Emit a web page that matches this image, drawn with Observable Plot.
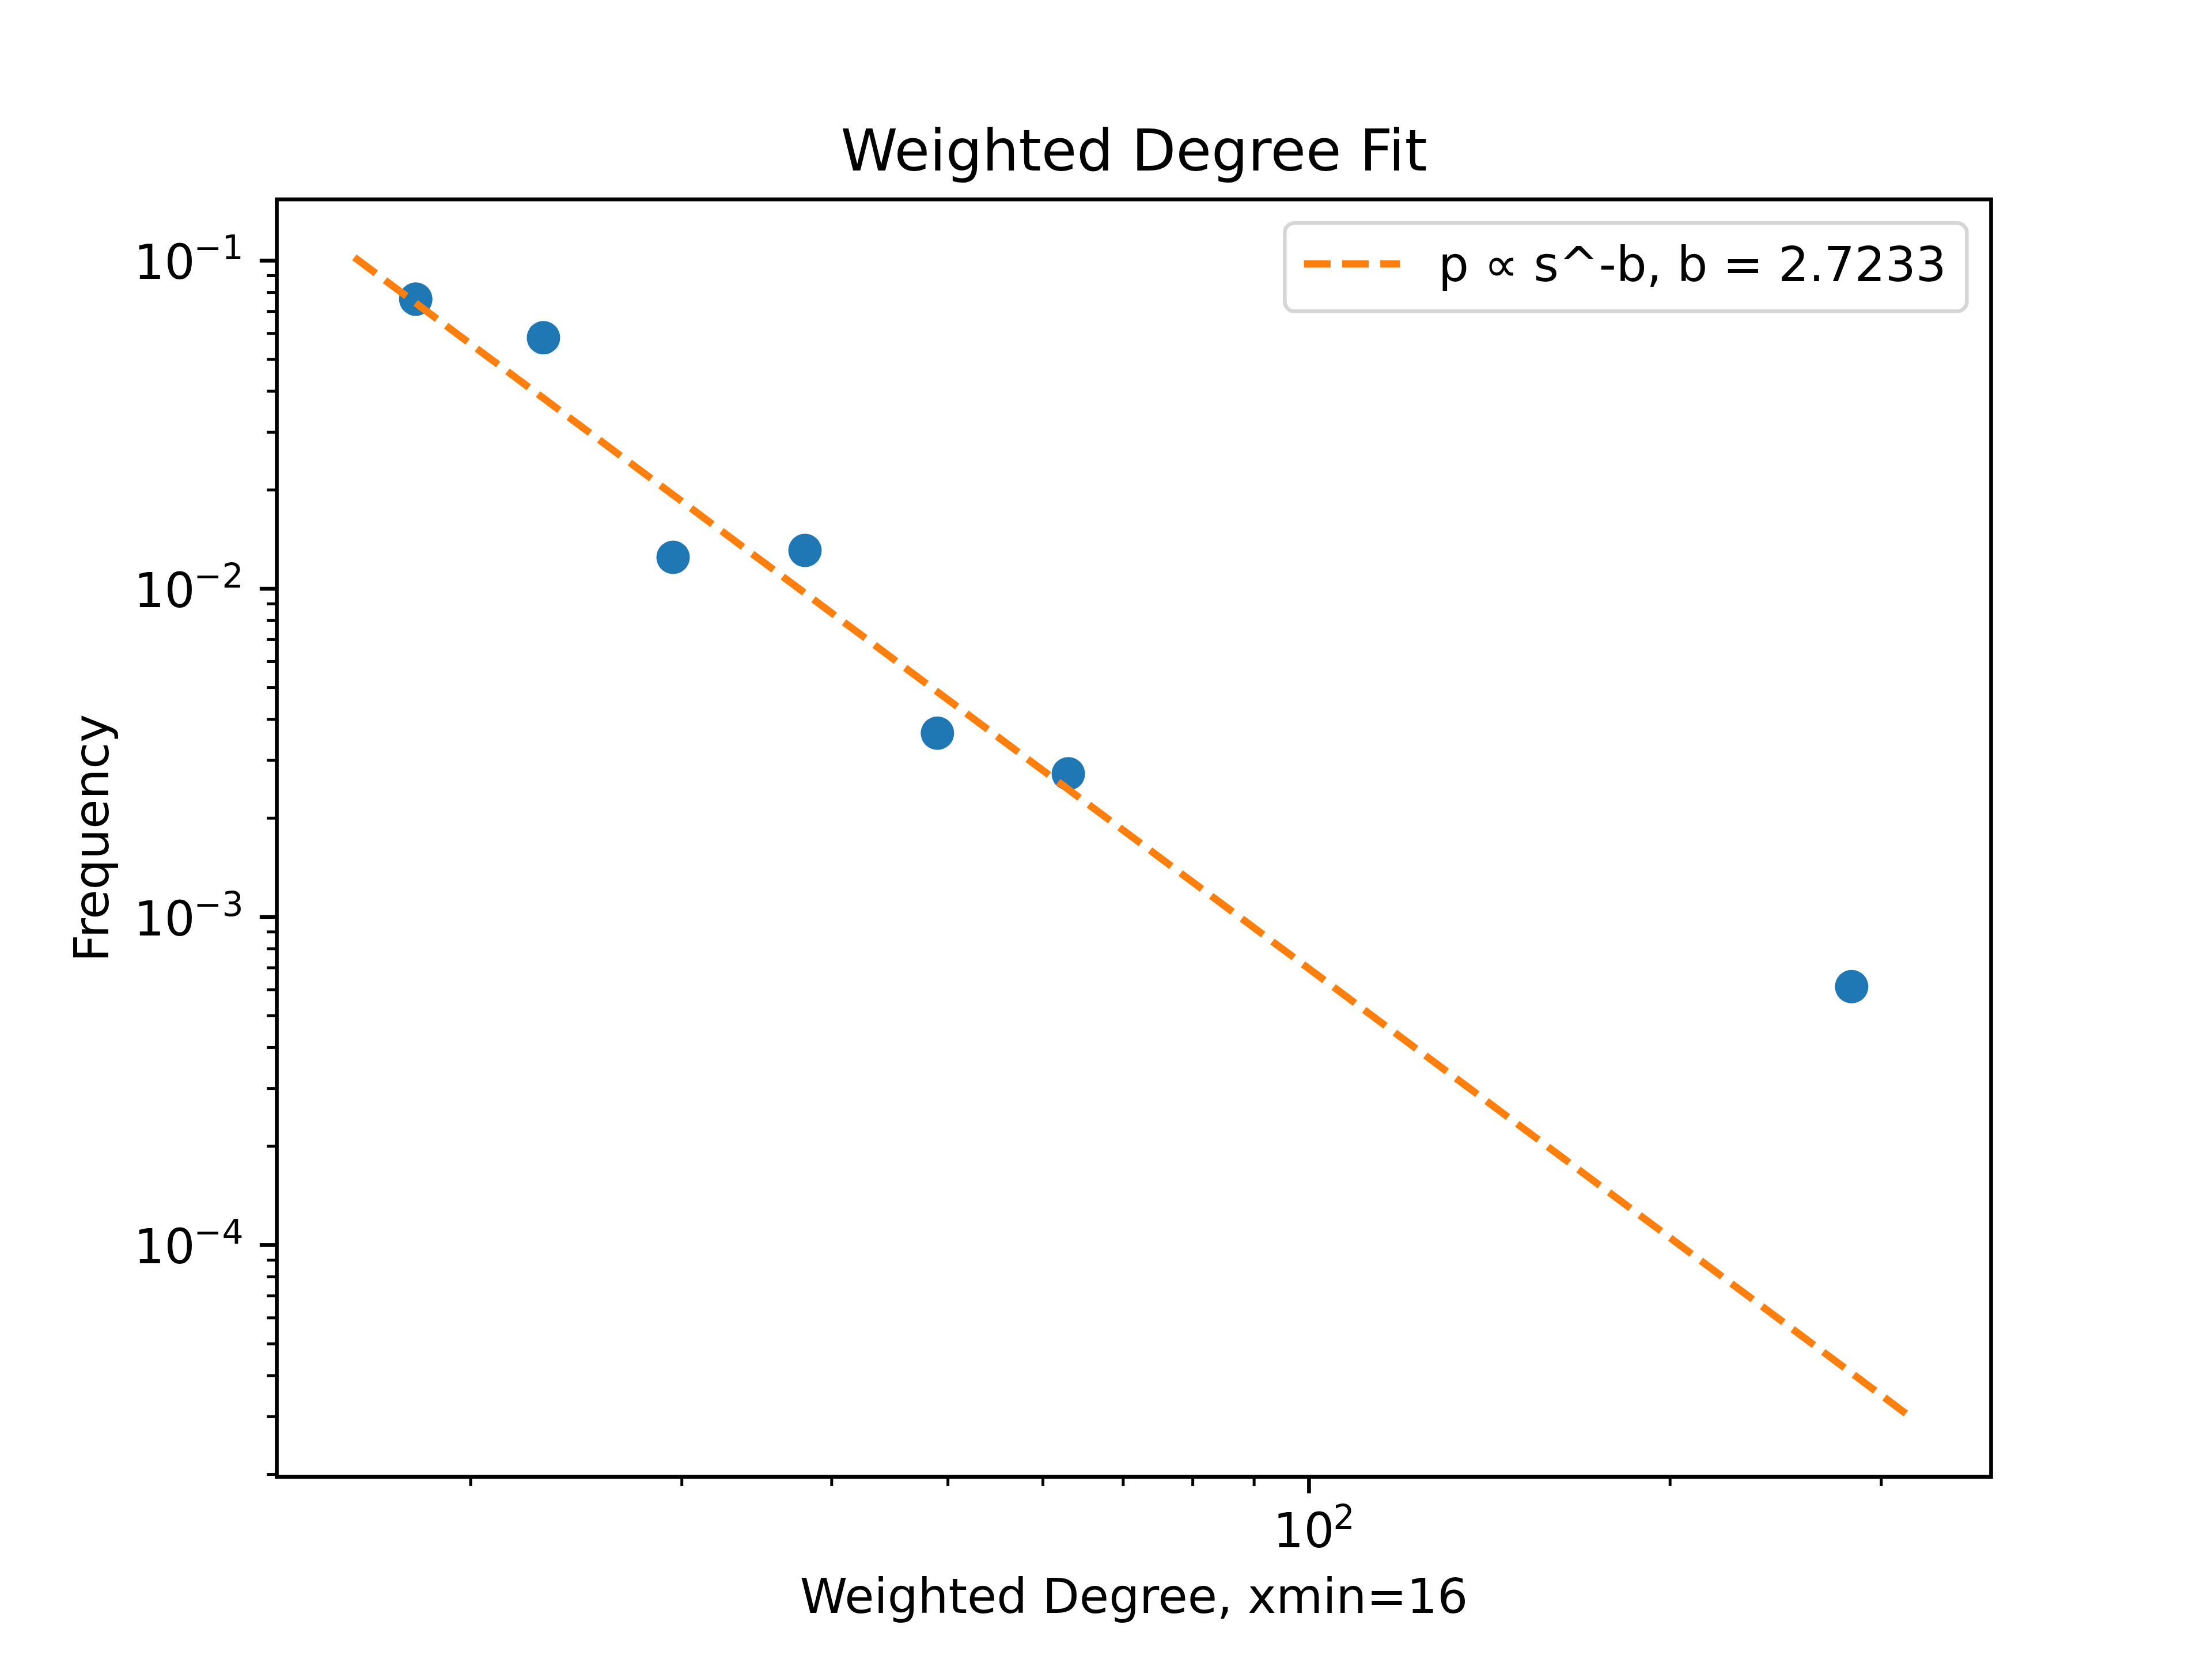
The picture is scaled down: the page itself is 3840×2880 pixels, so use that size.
<!DOCTYPE html>
<html>
<head>
<meta charset="utf-8">
<script src="https://cdn.jsdelivr.net/npm/d3@7"></script>
<script src="https://cdn.jsdelivr.net/npm/@observablehq/plot@0.6"></script>
<style>
  html, body { margin: 0; padding: 0; background: #ffffff; overflow: hidden; }
  #chart svg { display: block; }
</style>
</head>
<body>
<div id="chart"></div>
<script>
// ---- data ----
const degree = [18.0, 23.0, 29.5, 38.0, 49.0, 63.0, 283.4];
const frequency = [0.0763, 0.0582, 0.01247, 0.01309, 0.00363, 0.00273, 0.000613];
const fitDegree = [16, 319];
const fitFrequency = [0.1023, 2.95e-5];

const xMajorTicks = [100];
const xTickExponents = ["2"];
const xMinorTicks = [20, 30, 40, 50, 60, 70, 80, 90, 200, 300];
const yMajorTicks = [1e-1, 1e-2, 1e-3, 1e-4];
const yTickExponents = ["\u22121", "\u22122", "\u22123", "\u22124"];
const yMinorTicks = [
  2e-5, 3e-5, 4e-5, 5e-5, 6e-5, 7e-5, 8e-5, 9e-5,
  2e-4, 3e-4, 4e-4, 5e-4, 6e-4, 7e-4, 8e-4, 9e-4,
  2e-3, 3e-3, 4e-3, 5e-3, 6e-3, 7e-3, 8e-3, 9e-3,
  2e-2, 3e-2, 4e-2, 5e-2, 6e-2, 7e-2, 8e-2, 9e-2
];

const titleText = "Weighted Degree Fit";
const xLabelText = "Weighted Degree, xmin=16";
const yLabelText = "Frequency";
const legendText = "p \u221D s^-b, b = 2.7233";

// ---- layout / style ----
const W = 3840, H = 2880;
const PT = 600 / 72;            // pixels per point at 600 dpi
const FS = 10 * PT;             // 10pt
const FONT = "DejaVu Sans";
const BLUE = "#1f77b4", ORANGE = "#ff7f0e";
const DASH = `${3.7 * 1.5 * PT},${1.6 * 1.5 * PT}`;

const points = degree.map((d, i) => ({x: d, y: frequency[i]}));
const fitLine = fitDegree.map((d, i) => ({x: d, y: fitFrequency[i]}));

function legendMark(index, scales, values, dim) {
  const g = d3.create("svg:g");
  const right = dim.width - dim.marginRight - 0.5 * FS;
  const top = dim.marginTop + 0.5 * FS;
  const w = 1184, h = 153;
  const left = right - w;
  g.append("rect")
    .attr("x", left).attr("y", top).attr("width", w).attr("height", h)
    .attr("rx", 0.2 * FS).attr("ry", 0.2 * FS)
    .attr("fill", "#ffffff").attr("fill-opacity", 0.8)
    .attr("stroke", "#cccccc").attr("stroke-opacity", 0.8)
    .attr("stroke-width", 0.8 * PT);
  const hx = left + 0.4 * FS;
  g.append("line")
    .attr("x1", hx).attr("x2", hx + 2 * FS)
    .attr("y1", top + 71).attr("y2", top + 71)
    .attr("stroke", ORANGE).attr("stroke-width", 1.5 * PT)
    .attr("stroke-dasharray", DASH).attr("stroke-linecap", "butt");
  g.append("text")
    .attr("x", hx + 2.8 * FS).attr("y", top + 101)
    .attr("text-anchor", "start")
    .attr("font-family", FONT).attr("font-size", FS)
    .attr("fill", "#000000")
    .text(legendText);
  return g.node();
}

const chart = Plot.plot({
  width: W,
  height: H,
  marginLeft: 480,
  marginRight: 384,
  marginTop: 345.6,
  marginBottom: 316.8,
  style: {fontFamily: FONT, fontSize: `${FS}px`, background: "#ffffff", color: "#000000"},
  x: {type: "log", domain: [13.785, 370.4], axis: null},
  y: {type: "log", domain: [1.967e-5, 0.1537], axis: null},
  marks: [
    Plot.dot(points, {x: "x", y: "y", r: 29, fill: BLUE}),
    Plot.line(fitLine, {x: "x", y: "y", stroke: ORANGE, strokeWidth: 1.5 * PT,
      strokeDasharray: DASH, strokeLinecap: "butt"}),
    Plot.frame({stroke: "#000000", strokeWidth: 0.8 * PT}),
    // ticks
    Plot.axisX(xMajorTicks, {anchor: "bottom", tickSize: 3.5 * PT, strokeWidth: 0.8 * PT, stroke: "#000000", fill: "none"}),
    Plot.axisX(xMinorTicks, {anchor: "bottom", tickSize: 2 * PT, strokeWidth: 0.6 * PT, stroke: "#000000", fill: "none"}),
    Plot.axisY(yMajorTicks, {anchor: "left", tickSize: 3.5 * PT, strokeWidth: 0.8 * PT, stroke: "#000000", fill: "none"}),
    Plot.axisY(yMinorTicks, {anchor: "left", tickSize: 2 * PT, strokeWidth: 0.6 * PT, stroke: "#000000", fill: "none"}),
    // y tick labels 10^n
    Plot.text(yMajorTicks, {y: d => d, text: () => "10", frameAnchor: "left", textAnchor: "end",
      lineAnchor: "bottom", dx: -142, dy: 32, fontSize: FS, fill: "#000000"}),
    Plot.text(yMajorTicks, {y: d => d, text: (d, i) => yTickExponents[i], frameAnchor: "left", textAnchor: "end",
      lineAnchor: "bottom", dx: -58, dy: -2, fontSize: 0.7 * FS, fill: "#000000"}),
    // x tick labels 10^n
    Plot.text(xMajorTicks, {x: d => d, text: () => "10", frameAnchor: "bottom", textAnchor: "end",
      lineAnchor: "bottom", dx: 44, dy: 122, fontSize: FS, fill: "#000000"}),
    Plot.text(xMajorTicks, {x: d => d, text: (d, i) => xTickExponents[i], frameAnchor: "bottom", textAnchor: "start",
      lineAnchor: "bottom", dx: 42, dy: 90, fontSize: 0.7 * FS, fill: "#000000"}),
    // title and axis labels
    Plot.text([titleText], {text: d => d, frameAnchor: "top", lineAnchor: "bottom", dy: -6 * PT,
      fontSize: 12 * PT, fill: "#000000"}),
    Plot.text([xLabelText], {text: d => d, frameAnchor: "bottom", lineAnchor: "bottom", dy: 236,
      fontSize: FS, fill: "#000000"}),
    Plot.text([yLabelText], {text: d => d, frameAnchor: "left", lineAnchor: "bottom", rotate: -90,
      textAnchor: "middle", dx: -293, fontSize: FS, fill: "#000000"}),
    legendMark
  ]
});

document.getElementById("chart").appendChild(chart);
</script>
</body>
</html>
